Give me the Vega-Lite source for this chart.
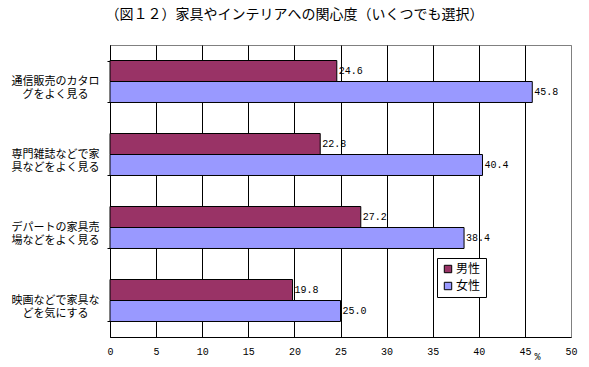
{
  "$schema": "https://vega.github.io/schema/vega-lite/v6.json",
  "width": 461,
  "height": 292,
  "autosize": {"type": "none"},
  "padding": {"left": 110, "top": 45, "right": 18, "bottom": 30},
  "background": "white",
  "title": {
    "text": "（図１２）家具やインテリアへの関心度（いくつでも選択）",
    "font": "Noto Sans CJK JP",
    "fontSize": 14,
    "fontWeight": "normal",
    "color": "black",
    "anchor": "middle",
    "dx": -46,
    "offset": 17
  },
  "config": {
    "view": {"stroke": "#808080", "strokeWidth": 1}
  },
  "data": {
    "values": [
      {"item": "通信販売のカタロ\nグをよく見る", "sex": "男性", "value": 24.6},
      {"item": "通信販売のカタロ\nグをよく見る", "sex": "女性", "value": 45.8},
      {"item": "専門雑誌などで家\n具などをよく見る", "sex": "男性", "value": 22.8},
      {"item": "専門雑誌などで家\n具などをよく見る", "sex": "女性", "value": 40.4},
      {"item": "デパートの家具売\n場などをよく見る", "sex": "男性", "value": 27.2},
      {"item": "デパートの家具売\n場などをよく見る", "sex": "女性", "value": 38.4},
      {"item": "映画などで家具な\nどを気にする", "sex": "男性", "value": 19.8},
      {"item": "映画などで家具な\nどを気にする", "sex": "女性", "value": 25.0}
    ]
  },
  "encoding": {
    "y": {
      "field": "item",
      "type": "nominal",
      "sort": null,
      "scale": {"paddingInner": 0.425, "paddingOuter": 0.2125},
      "axis": {
        "title": null,
        "domainColor": "black",
        "ticks": true,
        "tickBand": "extent",
        "tickSize": 3,
        "tickColor": "black",
        "labelAlign": "center",
        "labelBaseline": "middle",
        "labelPadding": 52,
        "labelFont": "Noto Sans CJK JP",
        "labelFontSize": 11,
        "labelLineHeight": 13,
        "labelColor": "black",
        "labelExpr": "split(datum.label, '\\n')",
        "grid": false
      }
    },
    "yOffset": {"field": "sex", "type": "nominal", "sort": ["男性", "女性"]}
  },
  "layer": [
    {
      "mark": {"type": "bar", "stroke": "black", "strokeWidth": 1},
      "encoding": {
        "x": {
          "field": "value",
          "type": "quantitative",
          "scale": {"domain": [0, 50], "nice": false},
          "axis": {
            "values": [0, 5, 10, 15, 20, 25, 30, 35, 40, 45, 50],
            "grid": true,
            "gridColor": {"condition": {"test": "datum.value == 50", "value": "#808080"}, "value": "black"},
            "gridOpacity": 1,
            "ticks": false,
            "domainColor": "black",
            "labelFlush": false,
            "labelFont": "Liberation Mono",
            "labelFontSize": 10,
            "labelColor": "black",
            "labelPadding": 9,
            "labelDx": -3,
            "title": "%",
            "titleFont": "Liberation Mono",
            "titleFontSize": 10,
            "titleFontWeight": "normal",
            "titleColor": "black",
            "titleX": 427,
            "titleY": 19,
            "titleBaseline": "middle"
          }
        },
        "color": {
          "field": "sex",
          "type": "nominal",
          "scale": {"domain": ["男性", "女性"], "range": ["#993366", "#9999FF"]},
          "legend": {
            "title": null,
            "orient": "none",
            "legendX": 327,
            "legendY": 213,
            "fillColor": "white",
            "strokeColor": "black",
            "padding": 5,
            "symbolType": "square",
            "symbolSize": 55,
            "symbolStrokeColor": "black",
            "symbolStrokeWidth": 1,
            "symbolOpacity": 1,
            "labelFont": "Noto Sans CJK JP",
            "labelFontSize": 12,
            "labelColor": "black",
            "labelOffset": 2,
            "rowPadding": 5
          }
        }
      }
    },
    {
      "mark": {"type": "text", "align": "left", "baseline": "middle", "dx": 2, "font": "Liberation Mono", "fontSize": 10, "color": "black"},
      "encoding": {
        "x": {"field": "value", "type": "quantitative"},
        "text": {"field": "value", "type": "quantitative", "format": ".1f"}
      }
    }
  ]
}
